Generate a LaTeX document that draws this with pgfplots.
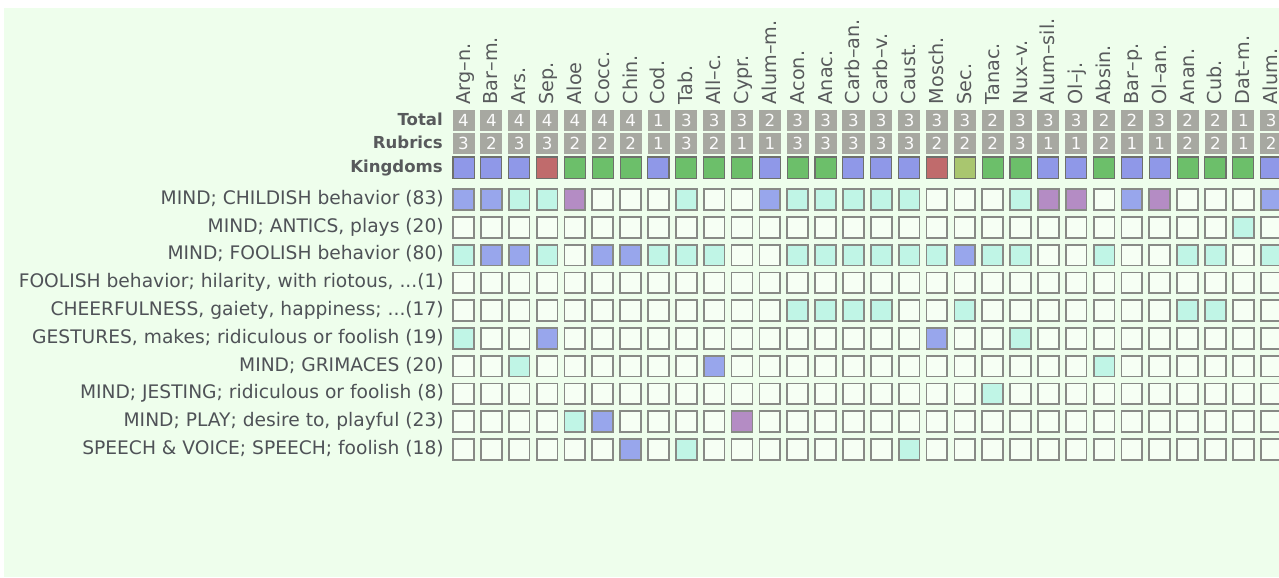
\documentclass[border=0pt]{standalone}
\usepackage{fontspec}
\setmainfont{DejaVu Sans}
\usepackage{pgfplots}
\pgfplotsset{compat=1.18}
\usepackage{pgfplotstable}

\definecolor{panel}{HTML}{EEFEEC}
\definecolor{cellE}{HTML}{F6FFF4}
\definecolor{cellC}{HTML}{C0F5E6}
\definecolor{cellB}{HTML}{98A6EC}
\definecolor{cellP}{HTML}{B48CC4}
\definecolor{cellBorder}{HTML}{888A86}
\definecolor{kM}{HTML}{8F98E8}
\definecolor{kP}{HTML}{6CBF6A}
\definecolor{kA}{HTML}{C06B6C}
\definecolor{kF}{HTML}{A9C66F}
\definecolor{kBorder}{HTML}{6E706C}
\definecolor{hdr}{HTML}{A7A8A1}
\definecolor{txt}{HTML}{4F5257}
\definecolor{coltxt}{HTML}{585A5C}

\pgfplotstableread{
name total rub king g1 g2 g3 g4 g5 g6 g7 g8 g9 g10
Arg--n. 4 3 m 2 0 1 0 0 1 0 0 0 0
Bar--m. 4 2 m 2 0 2 0 0 0 0 0 0 0
Ars. 4 3 m 1 0 2 0 0 0 1 0 0 0
Sep. 4 3 a 1 0 1 0 0 2 0 0 0 0
Aloe 4 2 p 3 0 0 0 0 0 0 0 1 0
Cocc. 4 2 p 0 0 2 0 0 0 0 0 2 0
Chin. 4 2 p 0 0 2 0 0 0 0 0 0 2
Cod. 1 1 m 0 0 1 0 0 0 0 0 0 0
Tab. 3 3 p 1 0 1 0 0 0 0 0 0 1
All--c. 3 2 p 0 0 1 0 0 0 2 0 0 0
Cypr. 3 1 p 0 0 0 0 0 0 0 0 3 0
Alum--m. 2 1 m 2 0 0 0 0 0 0 0 0 0
Acon. 3 3 p 1 0 1 0 1 0 0 0 0 0
Anac. 3 3 p 1 0 1 0 1 0 0 0 0 0
Carb--an. 3 3 m 1 0 1 0 1 0 0 0 0 0
Carb--v. 3 3 m 1 0 1 0 1 0 0 0 0 0
Caust. 3 3 m 1 0 1 0 0 0 0 0 0 1
Mosch. 3 2 a 0 0 1 0 0 2 0 0 0 0
Sec. 3 2 f 0 0 2 0 1 0 0 0 0 0
Tanac. 2 2 p 0 0 1 0 0 0 0 1 0 0
Nux--v. 3 3 p 1 0 1 0 0 1 0 0 0 0
Alum--sil. 3 1 m 3 0 0 0 0 0 0 0 0 0
Ol--j. 3 1 m 3 0 0 0 0 0 0 0 0 0
Absin. 2 2 p 0 0 1 0 0 0 1 0 0 0
Bar--p. 2 1 m 2 0 0 0 0 0 0 0 0 0
Ol--an. 3 1 m 3 0 0 0 0 0 0 0 0 0
Anan. 2 2 p 0 0 1 0 1 0 0 0 0 0
Cub. 2 2 p 0 0 1 0 1 0 0 0 0 0
Dat--m. 1 1 p 0 1 0 0 0 0 0 0 0 0
Alum. 3 2 m 2 0 1 0 0 0 0 0 0 0
}\cols

\begin{document}
\begin{tikzpicture}
\useasboundingbox (0,0) rectangle (959.25pt,433.5pt);
\begin{axis}[
  at={(0,0)}, anchor=south west,
  scale only axis, width=959.25pt, height=433.5pt,
  xmin=0, xmax=1279, ymin=0, ymax=578, y dir=reverse,
  hide axis, clip=true, clip marker paths=true,
]
% white page and light green panel
\addplot[fill=white, draw=none] coordinates {(0,0) (1279,0) (1279,578) (0,578)};
\addplot[fill=panel, draw=none] coordinates {(3.5,8) (1279,8) (1279,577) (3.5,577)};

% column labels
\addplot[draw=none, nodes near coords, point meta=explicit symbolic,
  nodes near coords style={rotate=90, anchor=base west, inner sep=0pt,
    color=coltxt, font=\fontsize{14.4}{15}\selectfont}]
  table[x expr=470.0+27.85*\coordindex, y expr=104.5, meta=name]{\cols};

% Total row
\addplot[only marks, mark=square*, mark size=7.9pt,
  mark options={fill=hdr, draw=hdr, line width=0.6pt, rounded corners=2.5pt, yscale=0.95},
  nodes near coords, point meta=explicit symbolic,
  nodes near coords style={anchor=center, inner sep=0pt, color=white!96!hdr,
    font=\fontsize{12.5}{13}\selectfont}]
  table[x expr=463.5+27.85*\coordindex, y expr=120, meta=total]{\cols};

% Rubrics row
\addplot[only marks, mark=square*, mark size=7.9pt,
  mark options={fill=hdr, draw=hdr, line width=0.6pt, rounded corners=2.5pt, yscale=0.95},
  nodes near coords, point meta=explicit symbolic,
  nodes near coords style={anchor=center, inner sep=0pt, color=white!96!hdr,
    font=\fontsize{12.5}{13}\selectfont}]
  table[x expr=463.5+27.85*\coordindex, y expr=143.5, meta=rub]{\cols};

% Kingdoms row
\addplot[scatter, only marks, mark=square*, mark size=7.9pt, line width=0.8pt,
  point meta=explicit symbolic,
  scatter/classes={
    m={fill=kM, draw=kBorder},
    p={fill=kP, draw=kBorder},
    a={fill=kA, draw=kBorder},
    f={fill=kF, draw=kBorder}}]
  table[x expr=463.5+27.85*\coordindex, y expr=167.5, meta=king]{\cols};

% data rows
\pgfplotsinvokeforeach{1,...,10}{
\addplot[scatter, only marks, mark=square*, mark size=7.8pt, line width=1.3pt,
  point meta=explicit symbolic,
  scatter/classes={
    0={fill=cellE, draw=cellBorder},
    1={fill=cellC, draw=cellBorder},
    2={fill=cellB, draw=cellBorder},
    3={fill=cellP, draw=cellBorder}}]
  table[x expr=463.5+27.85*\coordindex, y expr=199.5+27.78*(#1-1), meta=g#1]{\cols};
}

% header labels
\begin{scope}[every node/.style={anchor=base east, inner sep=0pt, color=coltxt,
    font=\bfseries\fontsize{12.4}{13}\selectfont}]
\node at (axis cs:443,125) {Total};
\node at (axis cs:443,148.5) {Rubrics};
\node at (axis cs:443,172.5) {Kingdoms};
\end{scope}

% row labels
\begin{scope}[every node/.style={anchor=base east, inner sep=0pt, color=txt,
    font=\fontsize{14}{15}\selectfont}]
\node at (axis cs:444,204.3) {MIND; CHILDISH behavior (83)};
\node at (axis cs:444,232.1) {MIND; ANTICS, plays (20)};
\node at (axis cs:444,259.9) {MIND; FOOLISH behavior (80)};
\node at (axis cs:444,287.6) {FOOLISH behavior; hilarity, with riotous, ...(1)};
\node at (axis cs:444,315.4) {CHEERFULNESS, gaiety, happiness; ...(17)};
\node at (axis cs:444,343.2) {GESTURES, makes; ridiculous or foolish (19)};
\node at (axis cs:444,371.0) {MIND; GRIMACES (20)};
\node at (axis cs:444,398.8) {MIND; JESTING; ridiculous or foolish (8)};
\node at (axis cs:444,426.5) {MIND; PLAY; desire to, playful (23)};
\node at (axis cs:444,454.3) {SPEECH \& VOICE; SPEECH; foolish (18)};
\end{scope}
\end{axis}
\end{tikzpicture}
\end{document}
